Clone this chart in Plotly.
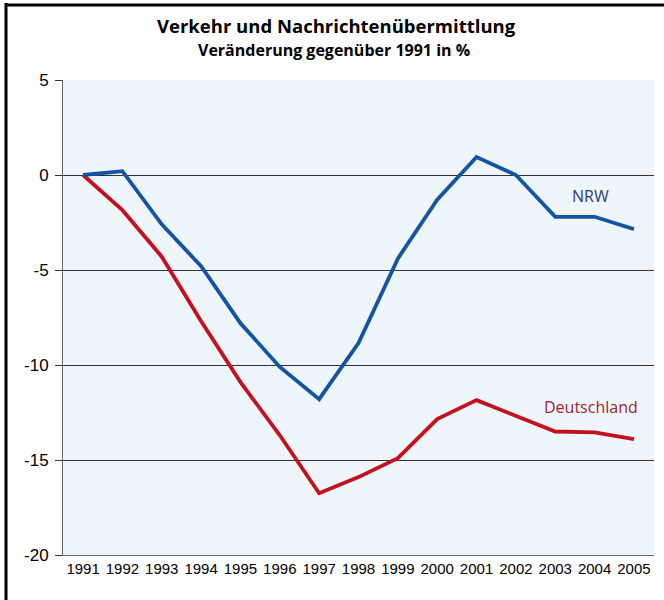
import plotly.graph_objects as go

years = list(range(1991, 2006))
nrw = [0, 0.2, -2.6, -4.8, -7.8, -10.1, -11.8, -8.85, -4.4, -1.3, 0.95, 0.0, -2.2, -2.2, -2.85]
deutschland = [0, -1.85, -4.3, -7.7, -10.9, -13.7, -16.75, -15.9, -14.9, -12.85, -11.85, -12.7, -13.5, -13.55, -13.9]
y_ticks = [-20, -15, -10, -5, 0, 5]

W, H = 664, 600
L, R, T, B = 63, 10, 80, 45
PW, PH = W - L - R, H - T - B

fig = go.Figure()
fig.add_trace(go.Scatter(x=years, y=deutschland, mode="lines", name="Deutschland",
                         line=dict(color="#c4111f", width=3.8), showlegend=False))
fig.add_trace(go.Scatter(x=years, y=nrw, mode="lines", name="NRW",
                         line=dict(color="#1553a4", width=3.8), showlegend=False))

label_font = "Open Sans, Liberation Sans, sans-serif"
fig.add_annotation(x=2003.9, y=-1.1, text="NRW", showarrow=False, xanchor="center",
                   yanchor="middle", font=dict(family=label_font, size=16, color="#2b3b7a"))
fig.add_annotation(x=2003.9, y=-12.2, text="Deutschland", showarrow=False, xanchor="center",
                   yanchor="middle", font=dict(family=label_font, size=16, color="#a3222e"))

title_font = "Open Sans, Liberation Sans, Arial, sans-serif"
fig.add_annotation(xref="paper", yref="paper", x=(336 - L) / PW, y=1 + (T - 26) / PH,
                   text="<b>Verkehr und Nachrichtenübermittlung</b>", showarrow=False,
                   xanchor="center", yanchor="middle",
                   font=dict(family=title_font, size=18.5, color="#000"))
fig.add_annotation(xref="paper", yref="paper", x=(334 - L) / PW, y=1 + (T - 50) / PH,
                   text="<b>Veränderung gegenüber 1991 in %</b>", showarrow=False,
                   xanchor="center", yanchor="middle",
                   font=dict(family=title_font, size=16, color="#000"))

# outer frame (left and top visible)
fx = (6 - L) / PW
fy = 1 + (T - 5) / PH
fig.add_shape(type="line", xref="paper", yref="paper", x0=fx, x1=fx,
              y0=fy + 2 / PH, y1=-(B + 5) / PH, line=dict(color="#000", width=3))
fig.add_shape(type="line", xref="paper", yref="paper", x0=fx, x1=(W + 10 - L) / PW,
              y0=fy, y1=fy, line=dict(color="#000", width=3))

fig.update_layout(
    width=W, height=H,
    margin=dict(l=L, r=R, t=T, b=B),
    paper_bgcolor="white",
    plot_bgcolor="#eff6fb",
    xaxis=dict(range=[1990.49, 2005.51], tickmode="array", tickvals=years,
               ticktext=[str(y) for y in years], showgrid=False, zeroline=False,
               showline=True, linecolor="#666", linewidth=1, ticks="",
               tickfont=dict(family="Liberation Sans, sans-serif", size=15, color="#000")),
    yaxis=dict(range=[-20, 5], tickmode="array", tickvals=y_ticks,
               ticktext=[str(v) for v in y_ticks], showgrid=True, gridcolor="#333",
               gridwidth=1, zeroline=False, showline=True, linecolor="#666", linewidth=1,
               ticks="outside", ticklen=7, tickcolor="#333", ticklabelstandoff=3,
               tickfont=dict(family="Liberation Sans, sans-serif", size=17, color="#000")),
)

fig.write_html("out.html", config={"displayModeBar": False},
               post_script="document.body.style.margin='0px';")
